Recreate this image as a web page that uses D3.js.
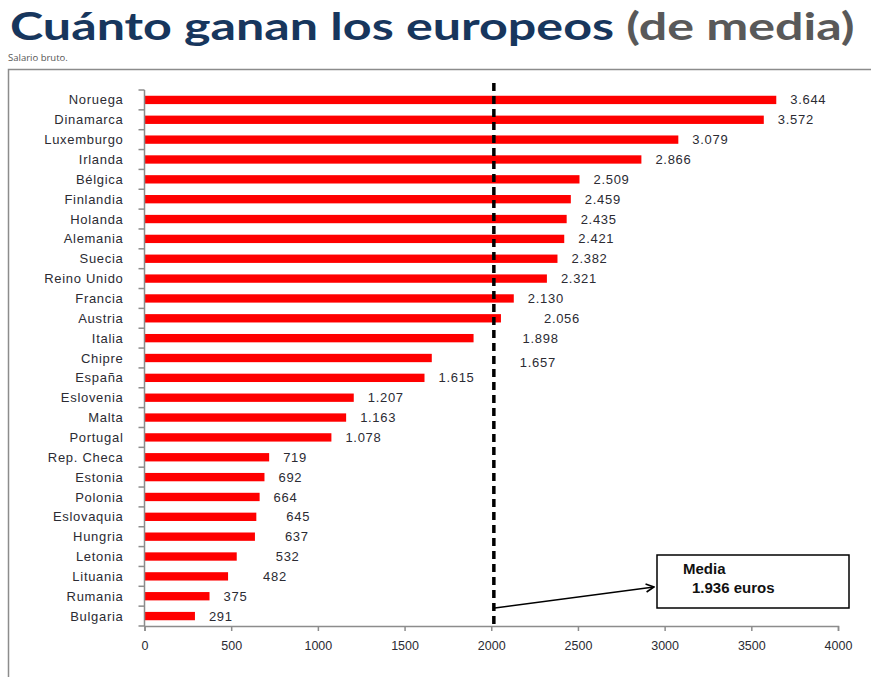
<!DOCTYPE html>
<html>
<head>
<meta charset="utf-8">
<script src="https://cdn.jsdelivr.net/npm/d3@7"></script>
<style>
  body { margin: 0; background: #fff; }
  svg { display: block; }
</style>
</head>
<body>
<div id="chart"></div>
<script>
// datos del grafico
var paises = ["Noruega", "Dinamarca", "Luxemburgo", "Irlanda", "Bélgica", "Finlandia", "Holanda",
  "Alemania", "Suecia", "Reino Unido", "Francia", "Austria", "Italia", "Chipre", "España",
  "Eslovenia", "Malta", "Portugal", "Rep. Checa", "Estonia", "Polonia", "Eslovaquia", "Hungria",
  "Letonia", "Lituania", "Rumania", "Bulgaria"];
var salarios = [3644, 3572, 3079, 2866, 2509, 2459, 2435, 2421, 2382, 2321, 2130, 2056, 1898, 1657,
  1615, 1207, 1163, 1078, 719, 692, 664, 645, 637, 532, 482, 375, 291];
var etiquetas = ["3.644", "3.572", "3.079", "2.866", "2.509", "2.459", "2.435", "2.421", "2.382",
  "2.321", "2.130", "2.056", "1.898", "1.657", "1.615", "1.207", "1.163", "1.078", "719", "692",
  "664", "645", "637", "532", "482", "375", "291"];
var ticksX = [0, 500, 1000, 1500, 2000, 2500, 3000, 3500, 4000];
var mediaTexto = ["Media", "1.936 euros"];
var mediaLinea = 2015; // donde esta dibujada la linea discontinua

// las etiquetas que en el original estan movidas a mano
var nudge = { "Austria": [29, 0], "Italia": [35, 0], "Chipre": [74, 4], "Eslovaquia": [16, 0],
  "Hungria": [16, 0], "Letonia": [25, 0], "Lituania": [21, 0] };

var W = 871, H = 677;
var svg = d3.select("#chart").append("svg")
  .attr("width", W)
  .attr("height", H);

// titulo (estirado a lo ancho como en la imagen)
var titulo = svg.append("text")
  .attr("x", 0)
  .attr("y", 0)
  .style("font-family", "Lato, 'Open Sans', sans-serif")
  .style("font-weight", "bold")
  .style("font-size", "39px");
titulo.append("tspan").text("Cuánto ganan los europeos ").style("fill", "#17365d");
titulo.append("tspan").text("(de media)").style("fill", "#595959");
var anchoTitulo = titulo.node().getComputedTextLength();
titulo.attr("transform", "translate(10,40) scale(" + (845 / anchoTitulo) + ",1)");

svg.append("text")
  .attr("x", 8)
  .attr("y", 61)
  .text("Salario bruto.")
  .style("font-family", "'Open Sans', sans-serif")
  .style("font-size", "9.5px")
  .style("fill", "#555");

// marco
svg.append("path")
  .attr("d", "M8.5," + H + " L8.5,69.5 L" + W + ",69.5")
  .style("fill", "none")
  .style("stroke", "#8c8c8c")
  .style("stroke-width", 1.5);

var x = d3.scaleLinear().domain([0, 4000]).range([144.5, 838]);
var y = d3.scaleBand().domain(paises).range([90, 626]).paddingInner(0.58).paddingOuter(0.29);
var step = y.step();

var fuente = "'Liberation Sans', Arial, sans-serif";

// barras
svg.selectAll(".bar")
  .data(paises)
  .enter().append("rect")
  .attr("class", "bar")
  .attr("x", x(0))
  .attr("y", function(d) { return y(d); })
  .attr("width", function(d, i) { return x(salarios[i]) - x(0); })
  .attr("height", y.bandwidth())
  .style("fill", "#ff0000");

// etiquetas de valor
svg.selectAll(".valor")
  .data(paises)
  .enter().append("text")
  .attr("class", "valor")
  .attr("x", function(d, i) { return x(salarios[i]) + 14 + (nudge[d] ? nudge[d][0] : 0); })
  .attr("y", function(d) { return y(d) + y.bandwidth() / 2 + (nudge[d] ? nudge[d][1] : 0); })
  .attr("dy", "0.35em")
  .text(function(d, i) { return etiquetas[i]; })
  .style("font-family", fuente)
  .style("font-size", "13px")
  .style("letter-spacing", "0.7px")
  .style("fill", "#2b2b33");

// eje y
var ejeY = svg.append("g").attr("transform", "translate(" + x(0) + ",0)");
ejeY.append("line")
  .attr("y1", 90).attr("y2", 626)
  .style("stroke", "#8c8c8c").style("stroke-width", 1.5);
ejeY.selectAll(".tickY")
  .data(d3.range(paises.length + 1))
  .enter().append("line")
  .attr("x1", -6).attr("x2", 0)
  .attr("y1", function(i) { return 90 + i * step; })
  .attr("y2", function(i) { return 90 + i * step; })
  .style("stroke", "#8c8c8c").style("stroke-width", 1.5);
ejeY.selectAll(".pais")
  .data(paises)
  .enter().append("text")
  .attr("x", -21)
  .attr("y", function(d) { return y(d) + y.bandwidth() / 2; })
  .attr("dy", "0.35em")
  .attr("text-anchor", "end")
  .text(function(d) { return d; })
  .style("font-family", fuente)
  .style("font-size", "13px")
  .style("letter-spacing", "0.7px")
  .style("fill", "#2b2b33");

// eje x
var ejeX = svg.append("g")
  .attr("transform", "translate(0,626)")
  .call(d3.axisBottom(x).tickValues(ticksX).tickSize(5).tickPadding(10).tickFormat(d3.format("d")));
ejeX.select(".domain").style("stroke", "#8c8c8c").style("stroke-width", 1.5);
ejeX.selectAll(".tick line").style("stroke", "#8c8c8c").style("stroke-width", 1.5);
ejeX.selectAll(".tick text")
  .style("font-family", fuente)
  .style("font-size", "12.5px")
  .style("fill", "#2b2b33");

// linea de la media
svg.append("line")
  .attr("x1", x(mediaLinea)).attr("x2", x(mediaLinea))
  .attr("y1", 83).attr("y2", 627)
  .style("stroke", "#000")
  .style("stroke-width", 3.5)
  .style("stroke-dasharray", "8,5");

// cuadro de la media
svg.append("defs").append("marker")
  .attr("id", "flecha")
  .attr("viewBox", "0 0 10 10")
  .attr("refX", 9).attr("refY", 5)
  .attr("markerWidth", 10).attr("markerHeight", 10)
  .attr("markerUnits", "userSpaceOnUse")
  .attr("orient", "auto")
  .append("path")
  .attr("d", "M1,1 L9,5 L1,9")
  .style("fill", "none")
  .style("stroke", "#000")
  .style("stroke-width", 1.6);

svg.append("line")
  .attr("x1", x(mediaLinea) + 1).attr("y1", 608)
  .attr("x2", 654).attr("y2", 587)
  .style("stroke", "#000")
  .style("stroke-width", 1.5)
  .attr("marker-end", "url(#flecha)");

svg.append("rect")
  .attr("x", 657).attr("y", 555)
  .attr("width", 192).attr("height", 53)
  .style("fill", "#fff")
  .style("stroke", "#000")
  .style("stroke-width", 1.5);

svg.selectAll(".media")
  .data(mediaTexto)
  .enter().append("text")
  .attr("x", function(d, i) { return i == 0 ? 683 : 692; })
  .attr("y", function(d, i) { return i == 0 ? 574 : 593; })
  .text(function(d) { return d; })
  .style("font-family", fuente)
  .style("font-weight", "bold")
  .style("font-size", "15px")
  .style("fill", "#111");
</script>
</body>
</html>
